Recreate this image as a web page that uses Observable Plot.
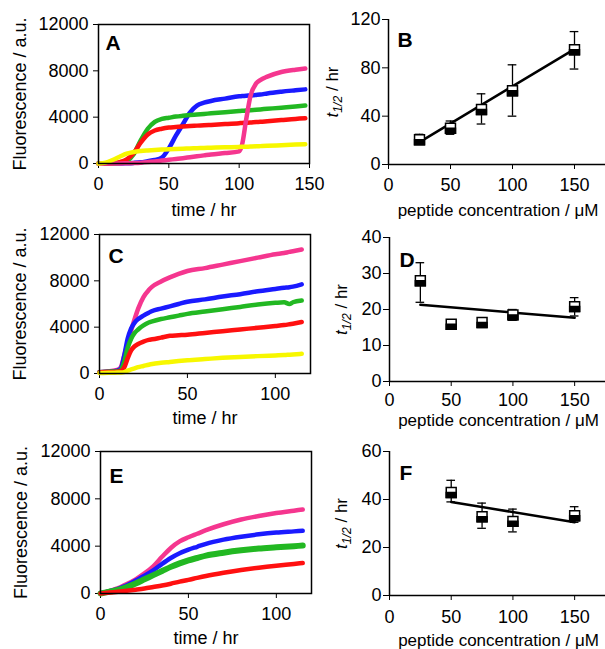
<!DOCTYPE html>
<html>
<head>
<meta charset="utf-8">
<script src="https://cdn.jsdelivr.net/npm/d3@7"></script>
<script src="https://cdn.jsdelivr.net/npm/@observablehq/plot@0.6"></script>
<style>
  html, body { margin: 0; padding: 0; background: white; }
  #fig { position: relative; width: 605px; height: 649px; background: white; overflow: hidden; }
  .cell { position: absolute; }
  .cell svg { display: block; max-width: none; }
</style>
</head>
<body>
<div id="fig"></div>
<script>
// ---------- Panel A (time course) ----------
const aTime   = [0, 5, 10, 15, 20, 25, 30, 35, 40, 45, 50, 55, 60, 65, 70, 75, 80, 90, 100, 102, 105, 108, 112, 115, 120, 130, 140, 147];
const aYellow = [0, 80, 300, 580, 850, 1000, 1080, 1130, 1170, 1200, 1230, 1260, 1280, 1300, 1320, 1340, 1360, 1400, 1430, 1440, 1450, 1460, 1480, 1500, 1530, 1580, 1630, 1660];
const aRed    = [0, 0, 30, 120, 350, 900, 1800, 2500, 2850, 3000, 3100, 3150, 3200, 3240, 3270, 3300, 3330, 3400, 3480, 3500, 3520, 3540, 3580, 3600, 3650, 3750, 3850, 3900];
const aGreen  = [0, 0, 0, 40, 200, 800, 2000, 3000, 3600, 3850, 3950, 4050, 4120, 4180, 4230, 4280, 4330, 4430, 4530, 4550, 4570, 4600, 4640, 4670, 4720, 4820, 4920, 5000];
const aBlue   = [0, 0, 0, 0, 20, 50, 100, 200, 300, 500, 1300, 2400, 3400, 4400, 5000, 5250, 5400, 5600, 5800, 5820, 5850, 5880, 5920, 5950, 6050, 6200, 6320, 6400];
const aPink   = [0, 0, 0, 0, 20, 40, 70, 120, 180, 250, 320, 390, 460, 540, 620, 700, 780, 900, 1050, 1600, 3800, 5800, 6900, 7200, 7500, 7900, 8100, 8200];

// ---------- Panel C (time course) ----------
const cTime   = [0, 5, 10, 12, 14, 16, 18, 20, 22, 25, 28, 30, 35, 40, 45, 50, 60, 70, 80, 90, 100, 105, 108, 110, 115];
const cPink   = [100, 200, 300, 500, 1500, 2600, 3700, 4700, 5600, 6600, 7200, 7500, 7950, 8300, 8600, 8850, 9100, 9400, 9700, 10000, 10300, 10400, 10500, 10550, 10700];
const cBlue   = [100, 150, 250, 400, 1500, 3000, 3900, 4400, 4700, 5000, 5250, 5400, 5600, 5800, 6000, 6200, 6400, 6650, 6850, 7100, 7300, 7400, 7450, 7500, 7700];
const cGreen  = [100, 150, 200, 300, 1000, 2200, 3000, 3500, 3800, 4150, 4400, 4500, 4700, 4850, 5000, 5150, 5350, 5550, 5750, 5950, 6100, 6150, 6000, 6150, 6300];
const cRed    = [100, 120, 150, 200, 500, 1300, 2000, 2350, 2550, 2750, 2900, 2950, 3100, 3250, 3300, 3350, 3500, 3650, 3800, 3950, 4100, 4180, 4250, 4300, 4450];
const cYellow = [50, 60, 80, 90, 120, 250, 350, 450, 550, 650, 760, 820, 920, 1000, 1080, 1150, 1250, 1350, 1430, 1500, 1560, 1590, 1620, 1640, 1700];

// ---------- Panel E (time course) ----------
const eTime   = [0, 5, 10, 15, 20, 25, 30, 35, 40, 45, 50, 55, 60, 70, 80, 90, 100, 110, 115];
const ePink   = [0, 200, 450, 800, 1200, 1700, 2300, 3100, 3850, 4400, 4750, 5050, 5350, 5850, 6250, 6550, 6800, 7000, 7100];
const eBlue   = [0, 200, 400, 700, 1100, 1500, 1950, 2500, 3000, 3400, 3700, 3950, 4200, 4550, 4800, 5000, 5150, 5250, 5300];
const eGreen  = [0, 150, 300, 550, 850, 1200, 1550, 1900, 2250, 2550, 2800, 3000, 3200, 3450, 3650, 3800, 3900, 4000, 4050];
const eRed    = [0, 80, 150, 230, 320, 420, 550, 680, 830, 1000, 1150, 1320, 1480, 1750, 1980, 2180, 2350, 2500, 2580];

// ---------- Panels B, D, F (t1/2 vs concentration) ----------
const bConc = [25, 50, 75, 100, 150];
const bT    = [20.5, 30, 45.5, 61, 95];
const bLo   = [17, 25, 33.5, 40, 79];
const bHi   = [25, 36, 58.5, 82.5, 110];
const bFitX = [25, 150];
const bFitY = [18.5, 95.5];

const dConc = [25, 50, 75, 100, 150];
const dT    = [28, 15.9, 16.4, 18.5, 20.8];
const dLo   = [22, 15.5, 16, 17, 18.2];
const dHi   = [33, 16.3, 16.8, 20, 23.3];
const dFitX = [25, 150];
const dFitY = [21.3, 17.7];

const fConc = [50, 75, 100, 150];
const fT    = [42.9, 32.8, 30.9, 33.2];
const fLo   = [39, 28, 26.5, 30.5];
const fHi   = [48, 38.5, 36, 37];
const fFitX = [50, 150];
const fFitY = [39, 30.5];

// tick labels
const fluoTicks = [0, 4000, 8000, 12000];
const timeTicksA = [0, 50, 100, 150];
const timeTicksCE = [0, 50, 100];
const concTicks = [0, 50, 100, 150];
const bTicks = [0, 40, 80, 120];
const dTicks = [0, 10, 20, 30, 40];
const fTicks = [0, 20, 40, 60];

const COLORS = {pink: "#f5368f", blue: "#1a1aff", green: "#22b822", red: "#ff1010", yellow: "#f7f700"};

const FONT = "'Liberation Sans', Arial, Helvetica, sans-serif";
const fig = document.getElementById("fig");

function place(svg, left, top, width) {
  const div = document.createElement("div");
  div.className = "cell";
  div.style.left = left + "px";
  div.style.top = top + "px";
  div.style.width = width + "px";
  div.appendChild(svg);
  fig.appendChild(div);
}

function toRows(t, v) { return t.map((tt, i) => ({t: tt, v: v[i]})); }

function timePanel(o) {
  const marks = [];
  for (const [name, vals, sw] of o.series) {
    marks.push(Plot.line(toRows(o.time, vals), {x: "t", y: "v", stroke: COLORS[name], strokeWidth: sw || 4.5, curve: "monotone-x"}));
  }
  marks.push(Plot.frame({stroke: "black", strokeWidth: 1.5}));
  marks.push(Plot.text([o.letter], {text: d => d, frameAnchor: "top-left", dx: o.ldx, dy: o.ldy, textAnchor: "start", lineAnchor: "top", fontSize: 21, fontWeight: "bold"}));
  marks.push(Plot.text(["time / hr"], {text: d => d, frameAnchor: "bottom", dy: o.xlDy, textAnchor: "middle", lineAnchor: "middle", fontSize: 18}));
  marks.push(Plot.text(["Fluorescence / a.u."], {text: d => d, frameAnchor: "left", dx: o.ylDx, rotate: -90, textAnchor: "middle", lineAnchor: "middle", fontSize: 18}));
  return Plot.plot({
    width: o.width, height: o.height,
    marginLeft: o.ml, marginRight: o.mr, marginTop: o.mt, marginBottom: o.mb,
    style: {fontFamily: FONT, fontSize: "18px", color: "black", background: "transparent", overflow: "visible"},
    x: {domain: o.xDomain, ticks: o.xTicks, tickSize: 5, tickPadding: 9, label: null, tickFormat: d3.format("d")},
    y: {domain: [0, 12000], ticks: fluoTicks, tickSize: 5, tickPadding: 5, label: null, tickFormat: d3.format("d")},
    marks
  });
}

const halfSquare = {
  draw(ctx, size) {
    const w = Math.sqrt(size) / 2;
    ctx.moveTo(-w, 0);
    ctx.lineTo(w, 0);
    ctx.lineTo(w, w);
    ctx.lineTo(-w, w);
    ctx.closePath();
  }
};

function concPanel(o) {
  const pts = o.conc.map((c, i) => ({c, v: o.val[i], lo: o.lo[i], hi: o.hi[i]}));
  const fit = o.fitX.map((x, i) => ({x, y: o.fitY[i]}));
  const cap = 3.5;
  const marks = [
    Plot.ruleX([0], {stroke: "black", strokeWidth: 1.5}),
    Plot.ruleY([0], {stroke: "black", strokeWidth: 1.5}),
    Plot.ruleX(pts, {x: "c", y1: "lo", y2: "hi", stroke: "black", strokeWidth: 1.3}),
    Plot.ruleY(pts, {y: "hi", x1: d => d.c - cap, x2: d => d.c + cap, stroke: "black", strokeWidth: 1.3}),
    Plot.ruleY(pts, {y: "lo", x1: d => d.c - cap, x2: d => d.c + cap, stroke: "black", strokeWidth: 1.3}),
    Plot.line(fit, {x: "x", y: "y", stroke: "black", strokeWidth: 2.5}),
    Plot.dot(pts, {x: "c", y: "v", symbol: "square", r: 5.6, fill: "white", stroke: "black", strokeWidth: 1.5}),
    Plot.dot(pts, {x: "c", y: "v", symbol: halfSquare, r: 5.6, fill: "black", stroke: "black", strokeWidth: 1.5}),
    Plot.text([o.letter], {text: d => d, frameAnchor: "top-left", dx: o.ldx, dy: o.ldy, textAnchor: "start", lineAnchor: "top", fontSize: 21, fontWeight: "bold"}),
    Plot.text(["peptide concentration / μM"], {text: d => d, frameAnchor: "bottom", dy: o.xlDy, dx: 1, textAnchor: "middle", lineAnchor: "middle", fontSize: 17}),
    Plot.text(["t1/2 / hr"], {text: d => d, frameAnchor: "left", dx: o.ylDx, rotate: -90, textAnchor: "middle", lineAnchor: "middle", fontSize: 17})
  ];
  const svg = Plot.plot({
    width: o.width, height: o.height,
    marginLeft: o.ml, marginRight: 0, marginTop: o.mt, marginBottom: o.mb,
    style: {fontFamily: FONT, fontSize: "18px", color: "black", background: "transparent", overflow: "visible"},
    x: {domain: [0, 175], ticks: concTicks, tickSize: 5, tickPadding: o.xPad, label: null, tickFormat: d3.format("d")},
    y: {domain: o.yDomain, ticks: o.yTicks, tickSize: 6, tickPadding: 2, label: null, tickFormat: d3.format("d")},
    marks
  });
  const ns = "http://www.w3.org/2000/svg";
  svg.querySelectorAll("text").forEach(el => {
    if (el.textContent === "t1/2 / hr") {
      el.textContent = "";
      const a = document.createElementNS(ns, "tspan");
      a.setAttribute("font-style", "italic");
      a.textContent = "t";
      const b = document.createElementNS(ns, "tspan");
      b.setAttribute("font-style", "italic");
      b.setAttribute("font-size", "0.72em");
      b.setAttribute("dy", "0.35em");
      b.textContent = "1/2";
      const c = document.createElementNS(ns, "tspan");
      c.setAttribute("dy", "-0.25em");
      c.textContent = " / hr";
      el.appendChild(a); el.appendChild(b); el.appendChild(c);
    }
  });
  return svg;
}

// Panel A
place(timePanel({
  time: aTime,
  series: [["blue", aBlue], ["green", aGreen], ["red", aRed], ["pink", aPink], ["yellow", aYellow]],
  xDomain: [0, 150], xTicks: timeTicksA, letter: "A",
  width: 312, height: 220, ml: 98, mr: 3, mt: 24, mb: 57,
  ldx: 7, ldy: 11, xlDy: 47, ylDx: -78
}), 0, 0, 312);

// Panel C
place(timePanel({
  time: cTime,
  series: [["pink", cPink], ["blue", cBlue], ["green", cGreen], ["red", cRed], ["yellow", cYellow]],
  xDomain: [0, 120], xTicks: timeTicksCE, letter: "C",
  width: 312, height: 210, ml: 99, mr: 2, mt: 14, mb: 57,
  ldx: 9, ldy: 14, xlDy: 45, ylDx: -79
}), 0, 220, 312);

// Panel E
place(timePanel({
  time: eTime,
  series: [["pink", ePink], ["blue", eBlue], ["green", eGreen, 6], ["red", eRed]],
  xDomain: [0, 120], xTicks: timeTicksCE, letter: "E",
  width: 312, height: 219, ml: 100, mr: 1, mt: 21, mb: 56,
  ldx: 9, ldy: 17, xlDy: 45, ylDx: -79
}), 0, 430, 312);

// Panel B
place(concPanel({
  conc: bConc, val: bT, lo: bLo, hi: bHi, fitX: bFitX, fitY: bFitY,
  yDomain: [0, 120], yTicks: bTicks, letter: "B",
  width: 305, height: 220, ml: 88, mt: 19, mb: 56,
  ldx: 9, ldy: 13, xlDy: 46, ylDx: -56, xPad: 9
}), 300, 0, 305);

// Panel D
place(concPanel({
  conc: dConc, val: dT, lo: dLo, hi: dHi, fitX: dFitX, fitY: dFitY,
  yDomain: [0, 40], yTicks: dTicks, letter: "D",
  width: 305, height: 210, ml: 89, mt: 17, mb: 49,
  ldx: 10, ldy: 15, xlDy: 39, ylDx: -48, xPad: 7
}), 300, 220, 305);

// Panel F
place(concPanel({
  conc: fConc, val: fT, lo: fLo, hi: fHi, fitX: fFitX, fitY: fFitY,
  yDomain: [0, 60], yTicks: fTicks, letter: "F",
  width: 305, height: 219, ml: 89, mt: 21, mb: 54,
  ldx: 10, ldy: 14, xlDy: 45, ylDx: -48, xPad: 10
}), 300, 430, 305);
</script>
</body>
</html>
